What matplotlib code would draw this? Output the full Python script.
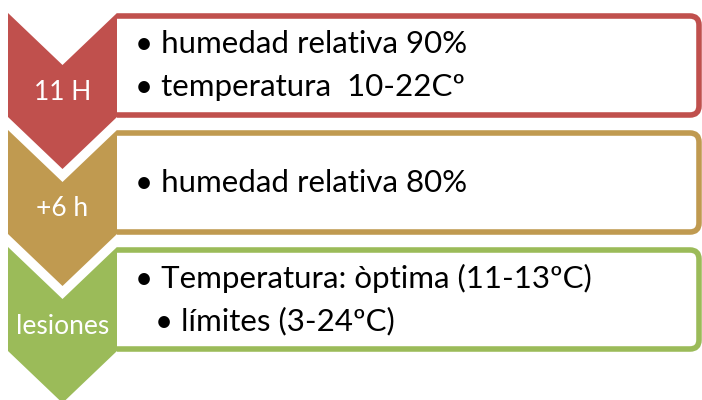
import matplotlib.pyplot as plt
from matplotlib.patches import Polygon, PathPatch
from matplotlib.path import Path

# steps (chevron labels) and the bullets next to each one
labels = ['11 H', '+6 h', 'lesiones']
bullets = [
    [('humedad relativa 90%', 0), ('temperatura  10-22Cº', 0)],
    [('humedad relativa 80%', 0)],
    [('Temperatura: òptima (11-13ºC)', 0), ('límites (3-24ºC)', 1)],
]
colors = ['#C0504D', '#C09A50', '#9BBB59']

fig = plt.figure(figsize=(7.02, 4), dpi=100)
ax = fig.add_axes([0, 0, 1, 1])
ax.set_xlim(0, 702)
ax.set_ylim(400, 0)
ax.axis('off')

plt.rcParams['font.family'] = ['Lato', 'DejaVu Sans']

row_h = 117
x0, x1 = 8, 117      # chevron left/right
depth = 52           # notch depth
bx1 = 699            # box right edge
r = 9                # corner radius

def right_rounded_box(xl, yt, xr, yb, r):
    verts = [(xl, yt), (xr - r, yt), (xr, yt), (xr, yt + r),
             (xr, yb - r), (xr, yb), (xr - r, yb), (xl, yb)]
    codes = [Path.MOVETO, Path.LINETO, Path.CURVE3, Path.CURVE3,
             Path.LINETO, Path.CURVE3, Path.CURVE3, Path.LINETO]
    return Path(verts, codes)

for i, (lab, items, c) in enumerate(zip(labels, bullets, colors)):
    top = 13 + i * row_h
    # text box
    bt, bb = top + 3, top + 102
    ax.add_patch(PathPatch(right_rounded_box(x1, bt, bx1, bb, r),
                           facecolor='white', edgecolor=c, lw=4,
                           capstyle='butt', joinstyle='round'))
    # chevron
    xm = (x0 + x1) / 2
    pts = [(x0, top), (xm, top + depth), (x1, top), (x1, top + 104),
           (xm, top + 104 + depth), (x0, top + 104)]
    ax.add_patch(Polygon(pts, closed=True, facecolor=c, edgecolor='none'))
    ax.text(xm, top + 79, lab, color='white', fontsize=19,
            ha='center', va='center')
    # bullets
    n = len(items)
    mid = (bt + bb) / 2
    gap = 43
    for j, (txt, lvl) in enumerate(items):
        y = mid + (j - (n - 1) / 2) * gap
        ax.text(135 + lvl * 20, y, '• ' + txt, fontsize=22.5,
                ha='left', va='center', color='black')

fig.savefig('out.png', dpi=100)
